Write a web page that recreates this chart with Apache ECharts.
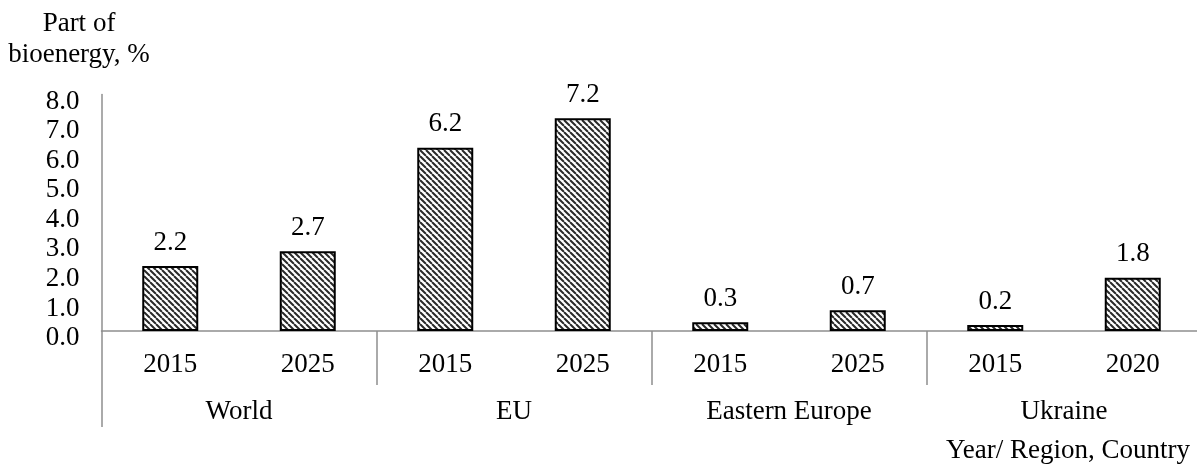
<!DOCTYPE html>
<html>
<head>
<meta charset="utf-8">
<script src="https://cdn.jsdelivr.net/npm/echarts@6/dist/echarts.min.js"></script>
<style>html,body{margin:0;padding:0;background:#fff;overflow:hidden}#c{width:1210px;height:464px}</style>
</head>
<body>
<div id="c"></div>
<script>
const years = ['2015', '2025', '2015', '2025', '2015', '2025', '2015', '2020'];
const groups = ['World', 'EU', 'Eastern Europe', 'Ukraine'];
const values = [2.2, 2.7, 6.2, 7.2, 0.3, 0.7, 0.2, 1.8];
const yTicks = [0, 1, 2, 3, 4, 5, 6, 7, 8];

const FONT = '"Liberation Serif", "Times New Roman", serif';
const FS = 27;

// hatch pattern
const pc = document.createElement('canvas');
pc.width = 6; pc.height = 6;
const g = pc.getContext('2d');
g.fillStyle = '#fff'; g.fillRect(0, 0, 6, 6);
g.strokeStyle = '#2a2a2a'; g.lineWidth = 2;
g.beginPath();
for (let k = -6; k <= 6; k += 6) { g.moveTo(k, 0); g.lineTo(k + 6, 6); }
g.stroke();

const chart = echarts.init(document.getElementById('c'), null, {renderer: 'canvas'});
const axisGray = '#8f8f8f';
chart.setOption({
  animation: false,
  backgroundColor: '#fff',
  title: [
    {text: 'Part of\nbioenergy, %', left: 74, top: 3, textAlign: 'center',
     textStyle: {fontFamily: FONT, fontSize: FS, fontWeight: 'normal', color: '#000', lineHeight: 31}},
    {text: 'Year/ Region, Country', left: 941, top: 432,
     textStyle: {fontFamily: FONT, fontSize: FS, fontWeight: 'normal', color: '#000'}}
  ],
  grid: {left: 101.5, top: 94.5, width: 1100, height: 236.5, containLabel: false},
  xAxis: [
    {type: 'category', data: years, position: 'bottom',
     axisLine: {show: true, lineStyle: {color: axisGray, width: 1.5}},
     axisTick: {show: false},
     axisLabel: {margin: 20, fontFamily: FONT, fontSize: FS, color: '#000'}},
    {type: 'category', data: groups, position: 'bottom',
     axisLine: {show: false},
     axisTick: {show: true, length: 54, interval: function (i) { return i > 0 && i < groups.length; }, lineStyle: {color: axisGray, width: 1.5}},
     axisLabel: {margin: 67, fontFamily: FONT, fontSize: FS, color: '#000'}},
    {type: 'category', data: groups, position: 'bottom',
     axisLine: {show: false},
     axisTick: {show: true, length: 96, interval: function (i) { return i === 0; }, lineStyle: {color: axisGray, width: 1.5}},
     axisLabel: {show: false}}
  ],
  yAxis: {
    type: 'value', min: 0, max: 8, interval: 1,
    axisLine: {show: true, lineStyle: {color: axisGray, width: 1.5}},
    axisTick: {show: false},
    splitLine: {show: false},
    axisLabel: {margin: 22, verticalAlign: 'top', lineHeight: 14, fontFamily: FONT, fontSize: FS, color: '#000',
      formatter: v => yTicks.includes(v) ? v.toFixed(1) : ''}
  },
  series: [{
    type: 'bar', data: values, barWidth: 56, xAxisIndex: 0,
    itemStyle: {color: {image: pc, repeat: 'repeat'}, borderColor: '#000', borderWidth: 2},
    label: {show: true, position: 'top', distance: 10, fontFamily: FONT, fontSize: FS, color: '#000',
      formatter: p => p.value.toFixed(1)}
  }]
});
</script>
</body>
</html>
